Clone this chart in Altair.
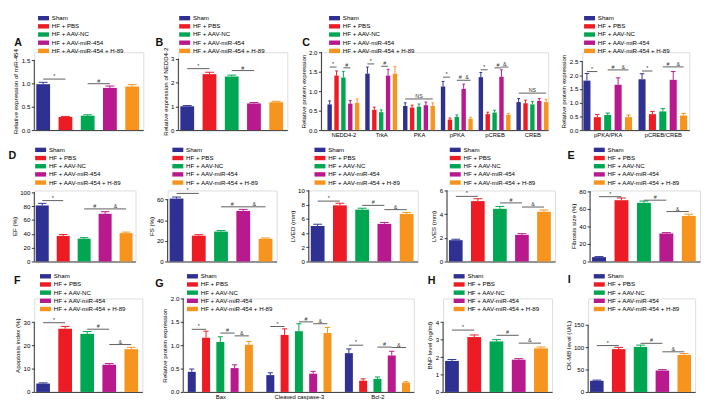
import altair as alt
import pandas as pd

GROUPS = ["Sham", "HF + PBS", "HF + AAV-NC", "HF + AAV-miR-454", "HF + AAV-miR-454 + H-89"]
COLORS = ["#2E3192", "#ED1C24", "#00A651", "#B8198C", "#F7941D"]

A_MEAN = [0.99, 0.28, 0.31, 0.91, 0.94]
A_ERR = [0.04, 0.015, 0.02, 0.04, 0.04]
A_SIG = [(0, 0, 1, 1.10, "*"), (0, 2, 3, 1.00, "#")]
B_MEAN = [1.00, 2.35, 2.25, 1.12, 1.17]
B_ERR = [0.03, 0.08, 0.06, 0.04, 0.04]
B_SIG = [(0, 0, 1, 2.58, "*"), (0, 2, 3, 2.50, "#")]
C_CATS = ["NEDD4-2", "TrkA", "PKA", "pPKA", "pCREB", "CREB"]
C_SHAM = [0.66, 1.45, 0.62, 1.12, 1.36, 0.72]
C_PBS = [1.40, 0.52, 0.58, 0.27, 0.41, 0.69]
C_NC = [1.35, 0.46, 0.60, 0.34, 0.45, 0.66]
C_MIR = [0.68, 1.40, 0.64, 1.06, 1.37, 0.75]
C_H89 = [0.70, 1.45, 0.62, 0.29, 0.39, 0.72]
C_SHAM_E = [0.09, 0.17, 0.08, 0.13, 0.12, 0.09]
C_PBS_E = [0.12, 0.07, 0.06, 0.04, 0.05, 0.08]
C_NC_E = [0.16, 0.06, 0.07, 0.05, 0.06, 0.08]
C_MIR_E = [0.08, 0.16, 0.08, 0.12, 0.18, 0.06]
C_H89_E = [0.10, 0.18, 0.08, 0.04, 0.04, 0.07]
C_SIG = [(0, 0, 1, 1.62, "*"), (0, 2, 3, 1.60, "#"),
         (1, 0, 1, 1.70, "*"), (1, 2, 3, 1.64, "#"),
         (2, 0, 4, 0.80, "NS"),
         (3, 0, 1, 1.36, "*"), (3, 2, 3, 1.28, "#"), (3, 3, 4, 1.28, "&"),
         (4, 0, 1, 1.55, "*"), (4, 2, 3, 1.60, "#"), (4, 3, 4, 1.62, "&"),
         (5, 0, 4, 0.95, "NS")]
CR_CATS = ["pPKA/PKA", "pCREB/CREB"]
CR_SHAM = [1.80, 1.85]
CR_PBS = [0.47, 0.58]
CR_NC = [0.55, 0.68]
CR_MIR = [1.65, 1.83]
CR_H89 = [0.47, 0.53]
CR_SHAM_E = [0.26, 0.20]
CR_PBS_E = [0.10, 0.10]
CR_NC_E = [0.07, 0.10]
CR_MIR_E = [0.25, 0.30]
CR_H89_E = [0.08, 0.08]
CR_SIG = [(0, 0, 1, 2.13, "*"), (0, 2, 3, 2.19, "#"), (0, 3, 4, 2.19, "&"),
          (1, 0, 1, 2.15, "*"), (1, 2, 3, 2.30, "#"), (1, 3, 4, 2.30, "&")]
EF_MEAN = [81, 37, 33, 69, 41]
EF_ERR = [3, 2, 1.5, 3, 1.5]
EF_SIG = [(0, 0, 1, 88, "*"), (0, 2, 3, 76, "#"), (0, 3, 4, 76, "&")]
FS_MEAN = [61, 25, 29, 49, 22]
FS_ERR = [1.5, 1, 1, 1.5, 0.8]
FS_SIG = [(0, 0, 1, 66, "*"), (0, 2, 3, 53, "#"), (0, 3, 4, 53, "&")]
LVED_MEAN = [5.0, 7.9, 7.3, 5.3, 6.7]
LVED_ERR = [0.25, 0.3, 0.2, 0.2, 0.2]
LVED_SIG = [(0, 0, 1, 8.5, "*"), (0, 2, 3, 7.9, "#"), (0, 3, 4, 7.3, "&")]
LVES_MEAN = [1.8, 5.1, 4.45, 2.25, 4.2]
LVES_ERR = [0.08, 0.2, 0.2, 0.1, 0.15]
LVES_SIG = [(0, 0, 1, 5.5, "*"), (0, 2, 3, 4.95, "#"), (0, 3, 4, 4.6, "&")]
E_MEAN = [5, 70, 67, 32, 52]
E_ERR = [0.6, 2.5, 2, 1, 2]
E_SIG = [(0, 0, 1, 74, "*"), (0, 2, 3, 70, "#"), (0, 3, 4, 57, "&")]
F_MEAN = [3.6, 27.2, 25.0, 11.7, 18.4]
F_ERR = [0.3, 1.0, 1.0, 0.5, 0.8]
F_SIG = [(0, 0, 1, 29.8, "*"), (0, 2, 3, 27.0, "#"), (0, 3, 4, 20.4, "&")]
G_CATS = ["Bax", "Cleaved caspase-3", "Bcl-2"]
G_SHAM = [0.43, 0.36, 0.83]
G_PBS = [1.16, 1.22, 0.24]
G_NC = [1.07, 1.30, 0.28]
G_MIR = [0.51, 0.39, 0.78]
G_H89 = [1.01, 1.26, 0.20]
G_SHAM_E = [0.06, 0.05, 0.09]
G_PBS_E = [0.14, 0.13, 0.04]
G_NC_E = [0.11, 0.16, 0.04]
G_MIR_E = [0.07, 0.05, 0.09]
G_H89_E = [0.07, 0.12, 0.02]
G_SIG = [(0, 0, 1, 1.34, "*"), (0, 2, 3, 1.26, "#"), (0, 3, 4, 1.20, "&"),
         (1, 0, 1, 1.40, "*"), (1, 2, 3, 1.50, "#"), (1, 3, 4, 1.46, "&"),
         (2, 0, 1, 1.00, "*"), (2, 2, 3, 0.96, "#"), (2, 3, 4, 0.95, "&")]
H_MEAN = [1.78, 3.15, 2.90, 1.85, 2.50]
H_ERR = [0.08, 0.12, 0.10, 0.06, 0.08]
H_SIG = [(0, 0, 1, 3.55, "*"), (0, 2, 3, 3.25, "#"), (0, 3, 4, 2.80, "&")]
I_MEAN = [25, 96, 101, 48, 83]
I_ERR = [1.5, 4, 4, 2, 3]
I_SIG = [(0, 0, 1, 104, "*"), (0, 2, 3, 109, "#"), (0, 3, 4, 90, "&")]

AXC = "#333333"
SWATCH = "M-1.25,-0.5H1.25V0.5H-1.25Z"


def per_cat(*group_lists):
    return [list(v) for v in zip(*group_lists)]


def panel(cats, means, errs, gap, xdom, hw, cw, ymax, yticks, yfmt, ytitle,
          width, height, top_off, leg_x, leg_y, sigs, letter=None,
          letter_x=0, letter_y=0, fs=6.3):
    recs = []
    for k, cat in enumerate(cats):
        for g, grp in enumerate(GROUPS):
            p = k * gap + g
            m = means[k][g]
            e = errs[k][g]
            recs.append({"group": grp, "pos": p, "x0": p - hw, "x1": p + hw,
                         "c0": p - cw, "c1": p + cw, "mean": m, "top": m + e, "base": 0})
    df = pd.DataFrame(recs)
    srecs = []
    for k, i, j, lvl, sym in sigs:
        a = k * gap + i
        b = k * gap + j
        srecs.append({"a": a, "b": b, "mid": (a + b) / 2, "lvl": lvl, "sym": sym})
    sdf = pd.DataFrame(srecs)

    dtop = ymax * height / (height - top_off)
    xs = alt.Scale(domain=xdom, nice=False, zero=False)
    ys = alt.Scale(domain=[0, dtop], nice=False, zero=True)
    cs = alt.Scale(domain=GROUPS, range=COLORS)
    if len(cats) > 1:
        centers = [k * gap + 2 for k in range(len(cats))]
        expr = "''"
        for c, name in reversed(list(zip(centers, cats))):
            expr = f"abs(datum.value - {c}) < 0.01 ? '{name}' : ({expr})"
        xaxis = alt.Axis(values=centers, labelExpr=expr, ticks=False, title=None, grid=False,
                         labelFontSize=fs - 0.3, labelPadding=2, domainColor=AXC)
    else:
        xaxis = alt.Axis(labels=False, ticks=False, title=None, grid=False, domainColor=AXC)
    yaxis = alt.Axis(values=yticks, format=yfmt, title=ytitle, grid=False, tickSize=3,
                     tickColor=AXC, domain=False, labelFontSize=fs, titleFontSize=fs,
                     titleFontWeight="normal", labelPadding=1.5, titlePadding=2.5)
    legend = alt.Legend(orient="none", legendX=leg_x, legendY=leg_y, title=None,
                        symbolType=SWATCH, symbolSize=81, symbolStrokeWidth=0,
                        labelFontSize=fs, labelOffset=4, rowPadding=0.4, padding=0)
    color = alt.Color("group:N", scale=cs, legend=legend)

    base = alt.Chart(df)
    bars = base.mark_bar().encode(
        x=alt.X("x0:Q", scale=xs, axis=xaxis), x2="x1:Q",
        y=alt.Y("mean:Q", scale=ys, axis=yaxis), y2="base:Q", color=color)
    stems = base.mark_rule(strokeWidth=1).encode(
        x=alt.X("pos:Q", scale=xs, axis=xaxis),
        y=alt.Y("mean:Q", scale=ys, axis=yaxis), y2="top:Q", color=color)
    caps = base.mark_rule(strokeWidth=1).encode(
        x=alt.X("c0:Q", scale=xs, axis=xaxis), x2="c1:Q",
        y=alt.Y("top:Q", scale=ys, axis=yaxis), color=color)
    yline = alt.Chart(pd.DataFrame({"y0": [0], "y1": [ymax], "xl": [xdom[0]]})).mark_rule(
        strokeWidth=1, color=AXC).encode(
        x=alt.X("xl:Q", scale=xs, axis=xaxis),
        y=alt.Y("y0:Q", scale=ys, axis=yaxis), y2="y1:Q")
    sbase = alt.Chart(sdf)
    slines = sbase.mark_rule(strokeWidth=0.8, color="#333333").encode(
        x=alt.X("a:Q", scale=xs, axis=xaxis), x2="b:Q",
        y=alt.Y("lvl:Q", scale=ys, axis=yaxis))
    stext = sbase.mark_text(fontSize=fs - 0.8, color="#333333", baseline="bottom").encode(
        x=alt.X("mid:Q", scale=xs, axis=xaxis),
        y=alt.Y("lvl:Q", scale=ys, axis=yaxis), text="sym:N")
    layers = [bars, stems, caps, yline, slines, stext]
    if letter:
        lt = alt.Chart(pd.DataFrame({"t": [letter]})).mark_text(
            fontSize=11, fontWeight="bold", color="#111111").encode(
            text="t:N", x=alt.value(letter_x), y=alt.value(letter_y))
        layers.append(lt)
    return alt.layer(*layers).properties(width=width, height=height)


SINGLE = [None]
R1H, R2H, R3H = 80, 73, 96

pA = panel(SINGLE, [A_MEAN], [A_ERR], 0, [-0.4, 4.5], 0.31, 0.2, 1.5, [0, 0.5, 1.0, 1.5], ".1f",
           "Relative expression of miR-454", 112, R1H, 8.5, 5, -39.5, A_SIG, "A", -16.5, -9.4)
pB = panel(SINGLE, [B_MEAN], [B_ERR], 0, [-0.4, 4.5], 0.31, 0.2, 3, [0, 1, 2, 3], "d",
           "Relative expression of NEDD4-2", 112, R1H, 6.6, 2, -39.5, B_SIG, "B", -19.5, -9.4)
pC = panel(C_CATS, per_cat(C_SHAM, C_PBS, C_NC, C_MIR, C_H89),
           per_cat(C_SHAM_E, C_PBS_E, C_NC_E, C_MIR_E, C_H89_E), 5.5, [-1.2, 31.8], 0.32, 0.2,
           2.0, [0, 0.5, 1.0, 1.5, 2.0], ".1f", "Relative protein expression", 233, R1H, 0, 9,
           -39.5, C_SIG, "C", -15.6, -9.4)
pCR = panel(CR_CATS, per_cat(CR_SHAM, CR_PBS, CR_NC, CR_MIR, CR_H89),
            per_cat(CR_SHAM_E, CR_PBS_E, CR_NC_E, CR_MIR_E, CR_H89_E), 5.3, [-0.45, 9.85], 0.34,
            0.22, 2.5, [0, 0.5, 1.0, 1.5, 2.0, 2.5], ".1f", "Relative protein expression", 110,
            R1H, 9.4, 3, -39.5, CR_SIG)

pEF = panel(SINGLE, [EF_MEAN], [EF_ERR], 0, [-0.38, 4.45], 0.31, 0.2, 100, [0, 20, 40, 60, 80, 100],
            "d", "EF (%)", 104, R2H, 1.9, 2, -46.2, EF_SIG, "D", -22.4, -35.7)
pFS = panel(SINGLE, [FS_MEAN], [FS_ERR], 0, [-0.4, 4.5], 0.31, 0.2, 60, [0, 20, 40, 60], "d",
            "FS (%)", 112, R2H, 9.4, 6, -46.2, FS_SIG)
pLVED = panel(SINGLE, [LVED_MEAN], [LVED_ERR], 0, [-0.4, 4.5], 0.31, 0.2, 10, [0, 2, 4, 6, 8, 10],
              "d", "LVED (mm)", 112, R2H, 0, 7, -46.2, LVED_SIG)
pLVES = panel(SINGLE, [LVES_MEAN], [LVES_ERR], 0, [-0.4, 4.5], 0.31, 0.2, 6, [0, 2, 4, 6], "d",
              "LVES (mm)", 111, R2H, 0, 4, -46.2, LVES_SIG)
pE = panel(SINGLE, [E_MEAN], [E_ERR], 0, [-0.4, 4.5], 0.31, 0.2, 80, [0, 20, 40, 60, 80], "d",
           "Fibrosis size (%)", 113, R2H, 1, 5, -46.2, E_SIG, "E", -19.5, -35.7)

pF = panel(SINGLE, [F_MEAN], [F_ERR], 0, [-0.4, 4.5], 0.31, 0.2, 30, [0, 10, 20, 30], "d",
           "Apoptosis index (%)", 111, R3H, 24.4, 7, -27.3, F_SIG, "F", -17.5, -17.9)
pG = panel(G_CATS, per_cat(G_SHAM, G_PBS, G_NC, G_MIR, G_H89),
           per_cat(G_SHAM_E, G_PBS_E, G_NC_E, G_MIR_E, G_H89_E), 5.5, [-0.6, 15.55], 0.28, 0.18,
           2.0, [0, 0.5, 1.0, 1.5, 2.0], ".1f", "Relative protein expression", 237, R3H, 0, 5,
           -27.3, G_SIG, "G", -24.4, -15)
pH = panel(SINGLE, [H_MEAN], [H_ERR], 0, [-0.4, 4.5], 0.31, 0.2, 4, [0, 1, 2, 3, 4], "d",
           "BNP level (ng/ml)", 112, R3H, 24.4, 12, -27.3, H_SIG, "H", -11.7, -17.9)
pI = panel(SINGLE, [I_MEAN], [I_ERR], 0, [-0.4, 4.5], 0.31, 0.2, 150, [0, 50, 100, 150], "d",
           "CK-MB level (U/L)", 110, R3H, 27.3, 7, -27.3, I_SIG, "I", -19.5, -18.8)

RES = dict(color="independent", x="independent", y="independent")
row1 = alt.hconcat(pA, pB, pC, pCR, spacing=11).resolve_scale(**RES)
row2 = alt.hconcat(pEF, pFS, pLVED, pLVES, pE, spacing=11).resolve_scale(**RES)
row3 = alt.hconcat(pF, pG, pH, pI, spacing=11).resolve_scale(**RES)

chart = alt.vconcat(row1, row2, row3, spacing=6).resolve_scale(**RES).properties(
    padding=0, background="white"
).configure_view(stroke=None).configure(font="Liberation Sans")

chart.save("out.html", embed_options={"renderer": "svg", "actions": False})
